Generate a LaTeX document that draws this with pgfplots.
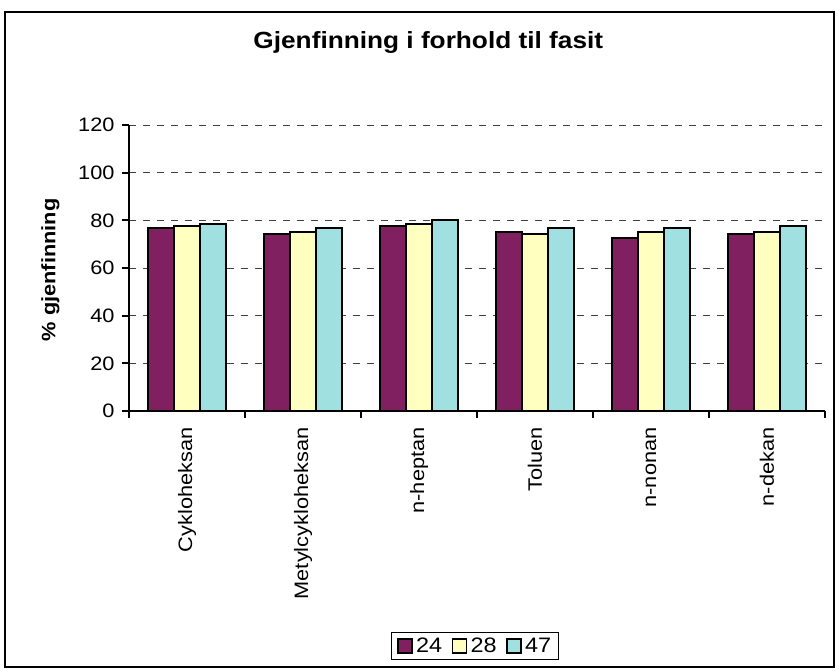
\documentclass[border=0pt]{standalone}
\usepackage{pgfplots}
\pgfplotsset{compat=1.18}
\usepackage{fontspec}
\setmainfont{Liberation Sans}[FakeStretch=1.12]
\definecolor{cA}{HTML}{802060}
\definecolor{cB}{HTML}{FFFFC0}
\definecolor{cC}{HTML}{A0E0E0}
\begin{document}
\begin{tikzpicture}
\path (-129bp,-260bp) rectangle (710bp,411bp);
\draw[line width=1.2bp] (-124bp,-256bp) rectangle (705bp,399bp);
\begin{axis}[
  at={(0,0)}, anchor=south west,
  scale only axis, width=696bp, height=286bp,
  xmin=-0.5, xmax=5.5, ymin=0, ymax=120,
  ytick={0,20,...,120},
  xtick={0,...,5},
  xticklabels={Cykloheksan,Metylcykloheksan,n-heptan,Toluen,n-nonan,n-dekan},
  minor xtick={-0.5,0.5,...,5.5},
  major x tick style={draw=none},
  minor tick length=7bp,
  major tick length=7bp,
  tick align=outside,
  axis x line*=bottom, axis y line*=left,
  axis line style={line width=2.2bp, -},
  every tick/.style={line width=2bp, black},
  ymajorgrids, grid style={black!75, line width=0.9bp, dash pattern=on 7bp off 7bp},
  /pgf/number format/assume math mode=true,
  tick label style={font=\fontsize{19.5}{22}\selectfont},
  xticklabel style={rotate=90, anchor=east, xshift=-6bp},
  yticklabel style={xshift=-4bp},
  ylabel={\bfseries\% gjenfinning},
  ylabel style={font=\fontsize{19.5}{22}\selectfont, at={(axis description cs:-0.0948,0.493)}, anchor=south},
  title={\bfseries Gjenfinning i forhold til fasit},
  title style={font=\fontsize{23.5}{27}\selectfont, at={(axis description cs:0.43,1)}, anchor=base, yshift=71bp},
  ybar=0pt, bar width=0.225,
  legend columns=3,
  legend style={at={(axis description cs:0.497,-0.822)}, anchor=center, draw=black, line width=0.8bp,
    font=\fontsize{21}{24}\selectfont,
    /tikz/every odd column/.append style={column sep=2bp},
    /tikz/every even column/.append style={column sep=8bp},
    nodes={inner sep=1.5bp},
    inner xsep=6bp, inner ysep=4bp},
  legend image code/.code={\draw[#1, line width=1.5bp] (0bp,-7bp) rectangle (14bp,7bp);},
]
\addplot[fill=cA, draw=black, line width=1.8bp] coordinates {(0,76.7) (1,74.3) (2,77.6) (3,75.0) (4,72.6) (5,74.3)};
\addplot[fill=cB, draw=black, line width=1.8bp] coordinates {(0,77.6) (1,75.0) (2,78.3) (3,74.3) (4,75.0) (5,75.0)};
\addplot[fill=cC, draw=black, line width=1.8bp] coordinates {(0,78.3) (1,76.7) (2,80.0) (3,76.7) (4,76.7) (5,77.6)};
\legend{24,28,47}
\end{axis}
\end{tikzpicture}
\end{document}
